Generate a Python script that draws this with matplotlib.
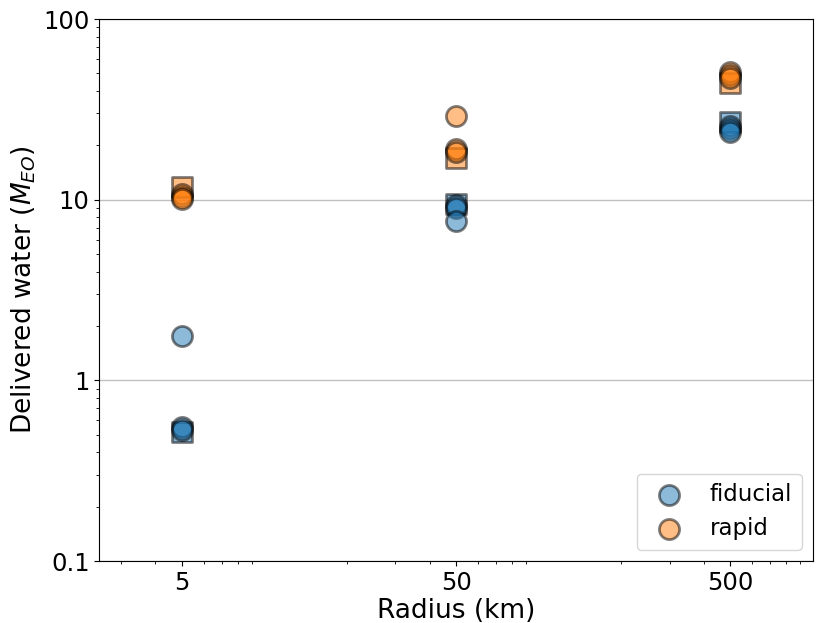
import matplotlib

matplotlib.use("Agg")
import matplotlib.pyplot as plt
from matplotlib.ticker import FixedLocator, FixedFormatter

# planetesimal radius (km)
radii = [5, 50, 500]

# individual runs (circles)
fid_runs = [[1.75, 0.55, 0.53], [9.3, 9.0, 7.6], [25.5, 24.5, 23.8]]
rap_runs = [[10.8, 10.3, 10.1], [29.0, 19.1, 18.3], [51.0, 49.0, 47.0]]

# squares
fid_sq = [0.52, 9.5, 27.0]
rap_sq = [11.8, 17.0, 44.0]

BLUE = "#1f77b4"
ORANGE = "#ff7f0e"


def main():
    fig = plt.figure(figsize=(8.3, 6.23), dpi=100)
    ax = fig.add_axes([0.1196, 0.0995, 0.8599, 0.87])
    ax.set_xscale("log")
    ax.set_yscale("log")

    kw = dict(s=210, alpha=0.5, edgecolors="k", linewidths=2, zorder=3)
    ax.scatter(radii, fid_sq, marker="s", color=BLUE, **kw)
    ax.scatter(radii, rap_sq, marker="s", color=ORANGE, **kw)

    for i, r in enumerate(radii):
        xs = [r] * len(fid_runs[i])
        ax.scatter(xs, fid_runs[i], marker="o", color=BLUE,
                   label="fiducial" if i == 0 else None, **kw)
        xs = [r] * len(rap_runs[i])
        ax.scatter(xs, rap_runs[i], marker="o", color=ORANGE,
                   label="rapid" if i == 0 else None, **kw)

    ax.set_xlim(2.5, 1000)
    ax.set_ylim(0.1, 100)
    ax.xaxis.set_major_locator(FixedLocator(radii))
    ax.xaxis.set_major_formatter(FixedFormatter(["5", "50", "500"]))
    ax.yaxis.set_major_locator(FixedLocator([0.1, 1, 10, 100]))
    ax.yaxis.set_major_formatter(FixedFormatter(["0.1", "1", "10", "100"]))
    ax.tick_params(axis="both", which="major", labelsize=17.5)
    ax.grid(axis="y", which="major", color="#c0c0c0", lw=1, zorder=0)

    ax.set_xlabel("Radius (km)", fontsize=19, labelpad=2)
    ax.set_ylabel("Delivered water ($M_{EO}$)", fontsize=19)
    ax.legend(loc="lower right", fontsize=16.5)

    fig.savefig("out.png", dpi=100)
    plt.close(fig)


if __name__ == "__main__":
    main()
